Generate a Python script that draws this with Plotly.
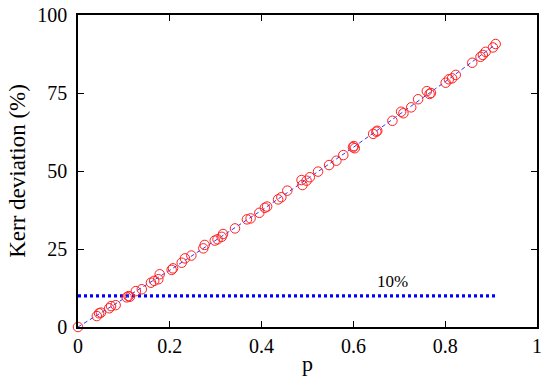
import plotly.graph_objects as go

# Data points (p, Kerr deviation %)
p_vals = [0.0, 0.041, 0.046, 0.050, 0.068, 0.072, 0.082, 0.106, 0.110, 0.113,
          0.126, 0.139, 0.159, 0.166, 0.175, 0.178, 0.204, 0.207, 0.226, 0.233,
          0.247, 0.273, 0.276, 0.298, 0.304, 0.313, 0.316, 0.342, 0.368, 0.376,
          0.395, 0.407, 0.412, 0.436, 0.443, 0.456, 0.487, 0.489, 0.498, 0.505,
          0.523, 0.547, 0.563, 0.578, 0.599, 0.601, 0.603, 0.643, 0.650, 0.652,
          0.685, 0.704, 0.709, 0.726, 0.741, 0.760, 0.766, 0.769, 0.801, 0.808,
          0.815, 0.823, 0.859, 0.877, 0.882, 0.888, 0.904, 0.910]
dev_vals = [0.0, 3.5, 4.4, 4.6, 6.0, 6.7, 7.0, 9.5, 9.9, 9.7,
            11.5, 12.1, 14.2, 14.8, 15.3, 16.9, 18.3, 18.8, 20.6, 22.0,
            22.9, 25.2, 26.3, 27.7, 28.1, 28.9, 29.8, 31.6, 34.5, 34.8,
            36.6, 38.2, 38.6, 40.9, 41.6, 43.7, 47.1, 45.5, 46.9, 48.0,
            49.8, 51.9, 53.3, 55.1, 57.6, 58.0, 57.3, 61.9, 62.6, 62.9,
            66.1, 69.0, 68.5, 70.4, 73.0, 75.6, 74.7, 75.0, 78.3, 79.4,
            79.7, 80.8, 84.7, 86.6, 87.2, 88.2, 89.6, 90.7]

# Fitted trend line
fit_p = [0.0, 0.2, 0.4, 0.6, 0.8, 0.91]
fit_dev = [0.0, 18.2, 37.4, 57.6, 78.6, 90.6]

# 10% reference line
ref_p = [0.0, 0.911]
ref_dev = [10, 10]

x_ticks = [0, 0.2, 0.4, 0.6, 0.8, 1]
x_tick_labels = ["0", "0.2", "0.4", "0.6", "0.8", "1"]
y_ticks = [0, 25, 50, 75, 100]
y_tick_labels = ["0", "25", "50", "75", "100"]

FONT = "Liberation Serif, Tinos, DejaVu Serif, serif"

fig = go.Figure()
fig.add_trace(go.Scatter(x=ref_p, y=ref_dev, mode="lines",
                         line=dict(color="#0000ff", width=3.2, dash="3px,3px"),
                         showlegend=False, hoverinfo="skip"))
fig.add_trace(go.Scatter(x=fit_p, y=fit_dev, mode="lines",
                         line=dict(color="#3333ff", width=1, dash="4px,3px"),
                         showlegend=False))
fig.add_trace(go.Scatter(x=p_vals, y=dev_vals, mode="markers", cliponaxis=False,
                         marker=dict(symbol="circle-open", size=9.5,
                                     color="#ff2020", line=dict(width=1, color="#ff2020")),
                         showlegend=False))

fig.add_annotation(x=0.686, y=14.7, text="10%", showarrow=False,
                   font=dict(family=FONT, size=17, color="black"))

fig.update_layout(
    width=550, height=385,
    margin=dict(l=78, r=13, t=15, b=58, autoexpand=False),
    paper_bgcolor="white", plot_bgcolor="white",
    font=dict(family=FONT, color="black"),
)
fig.update_xaxes(range=[0, 1], tickvals=x_ticks, ticktext=x_tick_labels,
                 showgrid=False, zeroline=False, automargin=False,
                 showline=True, linecolor="black", linewidth=1.5, mirror="ticks",
                 ticks="inside", ticklen=6, tickwidth=1.2, tickcolor="black",
                 ticklabelstandoff=0,
                 tickfont=dict(family=FONT, size=20),
                 title=dict(text="p", font=dict(family=FONT, size=22), standoff=0))
fig.update_yaxes(range=[0, 100], tickvals=y_ticks, ticktext=y_tick_labels,
                 showgrid=False, zeroline=False, automargin=False,
                 showline=True, linecolor="black", linewidth=1.5, mirror="ticks",
                 ticks="inside", ticklen=6, tickwidth=1.2, tickcolor="black",
                 ticklabelstandoff=5,
                 tickfont=dict(family=FONT, size=20),
                 title=dict(text="Kerr deviation (%)", font=dict(family=FONT, size=23), standoff=5))

fig.write_html("out.html", config={"displayModeBar": False},
               post_script="document.body.style.margin='0';document.body.style.overflow='hidden';")
